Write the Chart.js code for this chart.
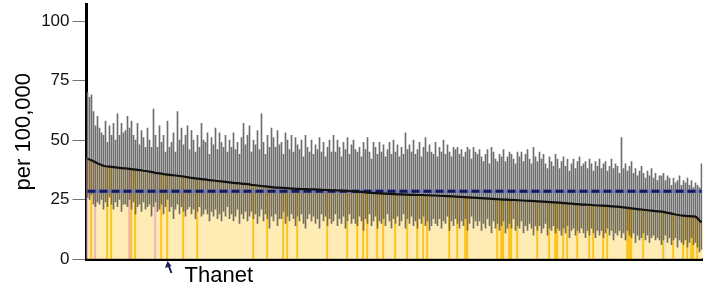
<!DOCTYPE html>
<html>
<head>
<meta charset="utf-8">
<script src="https://cdn.jsdelivr.net/npm/chart.js@4.4.1/dist/chart.umd.min.js"></script>
<style>
  html, body { margin: 0; padding: 0; background: #fff; }
  #wrap { width: 703px; height: 291px; position: relative; }
</style>
</head>
<body>
<div id="wrap"><canvas id="chart"></canvas></div>
<script>
// Rate per 100,000 for each local authority, sorted high to low
const rates = [
  42.2,41.8,41.5,41.1,40.7,40.2,39.8,39.5,39.2,39.0,
  38.9,38.8,38.7,38.6,38.5,38.4,38.3,38.2,38.1,38.1,38.0,
  37.9,37.8,37.7,37.6,37.5,37.4,37.3,37.1,37.0,36.9,
  36.7,36.6,36.4,36.2,36.1,36.0,35.9,35.7,35.6,35.5,
  35.4,35.3,35.2,35.1,35.0,34.9,34.8,34.7,34.5,34.4,
  34.2,34.1,34.0,33.9,33.8,33.7,33.6,33.5,33.5,33.3,33.2,
  33.1,33.0,32.9,32.8,32.7,32.6,32.5,32.4,32.3,32.2,
  32.1,32.0,31.9,31.9,31.8,31.7,31.6,31.6,31.5,31.4,
  31.2,31.1,31.0,30.9,30.8,30.7,30.6,30.5,30.4,30.3,
  30.2,30.1,30.0,30.0,30.0,29.9,29.9,29.8,29.8,29.7,29.6,
  29.6,29.5,29.5,29.5,29.4,29.4,29.4,29.4,29.3,29.3,
  29.3,29.3,29.2,29.2,29.1,29.1,29.0,29.0,29.0,28.9,
  28.9,28.9,28.8,28.8,28.8,28.7,28.7,28.7,28.6,28.5,
  28.4,28.4,28.3,28.2,28.2,28.1,28.0,27.9,27.9,27.8,27.8,
  27.7,27.7,27.6,27.6,27.5,27.5,27.4,27.4,27.4,27.3,
  27.3,27.2,27.2,27.2,27.1,27.1,27.1,27.0,27.0,27.0,
  27.0,26.9,26.9,26.9,26.9,26.8,26.8,26.8,26.7,26.7,26.7,
  26.6,26.6,26.5,26.5,26.4,26.4,26.4,26.3,26.3,26.2,
  26.2,26.1,26.1,26.0,26.0,25.9,25.9,25.8,25.8,25.7,
  25.7,25.6,25.6,25.5,25.5,25.4,25.4,25.3,25.3,25.2,
  25.2,25.1,25.1,25.0,25.0,25.0,24.9,24.9,24.8,24.8,24.7,
  24.7,24.6,24.6,24.5,24.5,24.4,24.4,24.3,24.3,24.2,
  24.2,24.1,24.1,24.0,24.0,23.9,23.9,23.8,23.8,23.7,
  23.7,23.6,23.5,23.5,23.4,23.3,23.3,23.2,23.1,23.1,
  23.0,22.9,22.9,22.9,22.8,22.8,22.7,22.6,22.6,22.5,22.5,
  22.4,22.4,22.3,22.3,22.2,22.1,22.1,22.0,22.0,21.9,
  21.8,21.7,21.6,21.5,21.4,21.3,21.2,21.1,21.0,20.9,
  20.8,20.7,20.6,20.5,20.4,20.3,20.2,20.1,20.0,20.0,19.9,
  19.8,19.6,19.4,19.3,19.1,18.9,18.7,18.6,18.4,18.3,
  18.2,18.1,18.0,18.0,17.9,17.9,17.8,17.2,16.2,15.4
];

// 95% confidence limits
const upper = [
  70,68,69,62,56,60,55,53,52,58,
  49,56,52,57,50,61,52,57,53,54,60,
  55,58,52,50,57,48,54,51,47,55,
  50,47,63,52,47,56,49,52,45,58,
  47,49,53,45,62,50,55,48,52,56,
  46,54,50,45,52,47,57,50,49,53,44,
  51,48,55,46,53,49,47,52,45,50,
  47,53,46,49,44,51,57,48,52,56,
  45,50,48,54,46,61,49,44,52,47,
  55,51,47,54,48,49,44,53,50,46,52,
  45,51,48,46,50,43,52,47,45,50,
  44,48,46,51,45,49,43,47,50,45,
  52,45,50,47,43,49,46,51,44,48,
  50,46,45,47,43,49,46,51,45,42,49,
  47,44,49,45,48,43,46,49,44,50,
  45,48,43,47,44,53,46,48,45,50,
  44,46,49,43,47,51,45,48,45,44,49,
  43,47,45,50,44,48,45,43,47,46,
  47,44,46,43,45,47,46,42,47,45,
  44,46,43,41,44,46,40,47,45,42,
  41,44,43,46,41,43,45,44,42,40,45,
  43,45,41,44,46,42,40,47,43,41,
  45,42,44,40,38,43,41,39,44,42,
  38,41,43,39,42,37,40,42,38,41,
  43,39,40,41,38,42,40,37,41,39,42,
  38,40,41,37,39,42,38,40,39,36,
  51,38,40,37,39,41,36,38,35,37,
  39,36,34,37,35,38,34,36,33,35,35,
  36,33,35,34,31,34,32,33,35,31,
  33,32,34,31,33,30,32,31,30,40
];
const lower = [
  26,25,27,23,22,24,23,25,21,24,
  22,26,23,21,24,22,25,20,23,23,22,
  25,21,24,19,22,23,20,24,21,22,
  23,18,22,24,20,21,23,19,22,25,
  20,22,17,21,23,19,22,20,18,21,
  22,19,21,17,20,22,18,19,21,19,16,
  20,18,21,17,19,16,20,18,22,17,
  19,16,18,21,15,19,17,20,16,18,
  20,17,19,15,18,21,16,19,17,13,
  18,16,19,14,17,17,20,15,18,16,19,
  17,14,18,16,19,15,13,17,19,16,
  18,15,17,13,19,16,18,14,17,15,
  16,19,14,17,15,18,13,16,19,15,
  17,15,14,18,16,12,17,15,19,14,16,
  18,13,16,15,17,14,19,16,13,17,
  15,18,14,16,19,13,17,15,18,14,
  16,13,17,15,18,14,16,12,14,17,15,
  14,17,13,16,15,18,12,16,14,17,
  15,13,16,14,17,12,15,18,13,16,
  14,16,12,15,13,17,14,11,16,13,
  15,12,14,16,11,13,15,13,17,12,14,
  13,16,11,14,12,15,13,10,14,12,
  14,11,13,15,10,13,12,14,11,13,
  12,10,13,11,14,9,12,13,10,12,
  11,13,11,9,12,10,13,11,9,12,10,
  12,9,11,13,10,12,8,11,10,12,
  9,11,8,12,10,9,11,7,10,8,
  9,11,8,10,7,9,10,8,9,8,6,
  8,10,7,9,6,8,9,5,8,7,
  6,8,5,7,9,6,7,5,3,4
];

// which areas stand out (by position in the sorted list)
const goldAreas = [2,10,12,22,24,37,40,48,55,83,90,98,100,105,120,130,135,138,140,145,
  148,154,160,165,168,170,181,185,189,190,205,207,208,211,212,215,225,231,234,235,
  238,240,245,251,253,258,260,270,271,272,278,288,293,298,300,302,303,305];
const pinkAreas = [0,4,21,34];
const greenAreas = [289];

const englandRate = 28.5;
const yTicks = [0, 25, 50, 75, 100];
const highlightIndex = 40;
const highlightName = 'Thanet';

const labels = rates.map((v, i) => 'LA ' + (i + 1));
const barColors = rates.map((v, i) => {
  if (goldAreas.includes(i)) return '#ffc41a';
  if (pinkAreas.includes(i)) return '#f3b3be';
  if (greenAreas.includes(i)) return '#dfe9cf';
  return '#feecb3';
});
const ciData = rates.map((v, i) => [lower[i], upper[i]]);
const avgData = labels.map(() => englandRate);

const calloutPlugin = {
  id: 'callout',
  afterDraw(chart) {
    const ctx = chart.ctx;
    const x = chart.scales.x.getPixelForValue(highlightIndex);
    ctx.save();
    ctx.strokeStyle = '#1b2150';
    ctx.fillStyle = '#1b2150';
    ctx.lineWidth = 2;
    ctx.beginPath();
    ctx.moveTo(x + 4, 273);
    ctx.lineTo(x + 0.5, 264);
    ctx.stroke();
    // arrow head
    ctx.beginPath();
    ctx.moveTo(x, 261);
    ctx.lineTo(x - 2.5, 268);
    ctx.lineTo(x + 4, 266);
    ctx.closePath();
    ctx.fill();
    ctx.fillStyle = '#000';
    ctx.font = '22px "Liberation Sans", Arial, sans-serif';
    ctx.textBaseline = 'alphabetic';
    ctx.fillText(highlightName, x + 17, 282);
    ctx.restore();
  }
};

new Chart(document.getElementById('chart'), {
  type: 'bar',
  data: {
    labels: labels,
    datasets: [
      {
        type: 'line',
        data: rates,
        borderColor: '#111',
        borderWidth: 2.2,
        pointRadius: 0,
        tension: 0,
        order: 0
      },
      {
        type: 'line',
        data: avgData,
        borderColor: '#141a5c',
        borderWidth: 3,
        borderDash: [8, 4],
        pointRadius: 0,
        order: 1
      },
      {
        type: 'line',
        data: avgData,
        borderColor: 'rgba(110,120,175,0.8)',
        borderWidth: 4,
        pointRadius: 0,
        order: 2
      },
      {
        data: ciData,
        backgroundColor: '#6e6e6e',
        barThickness: 1,
        grouped: false,
        order: 3
      },
      {
        data: rates,
        backgroundColor: barColors,
        categoryPercentage: 1,
        barPercentage: 1,
        grouped: false,
        order: 4
      }
    ]
  },
  options: {
    responsive: true,
    maintainAspectRatio: false,
    animation: false,
    layout: { padding: { top: 4.5, right: 0.5, bottom: 24, left: 0 } },
    plugins: {
      legend: { display: false },
      tooltip: { enabled: false }
    },
    scales: {
      x: {
        grid: { display: false },
        ticks: { display: false },
        border: { display: true, color: '#000', width: 3 }
      },
      y: {
        min: 0,
        max: 107,
        afterBuildTicks: axis => { axis.ticks = yTicks.map(v => ({ value: v })); },
        afterFit: axis => {
          axis.width = 86.5;
          axis.paddingTop = 0;
        },
        ticks: {
          color: '#111',
          padding: 3,
          font: { family: '"Liberation Sans", Arial, sans-serif', size: 17 }
        },
        grid: {
          drawOnChartArea: false,
          drawTicks: true,
          tickLength: 14,
          color: '#777'
        },
        border: { display: true, color: '#000', width: 3 },
        title: {
          display: true,
          text: 'per 100,000',
          color: '#000',
          padding: { top: 11, bottom: 0 },
          font: { family: '"Liberation Sans", Arial, sans-serif', size: 22 }
        }
      }
    }
  },
  plugins: [calloutPlugin]
});
</script>
</body>
</html>
